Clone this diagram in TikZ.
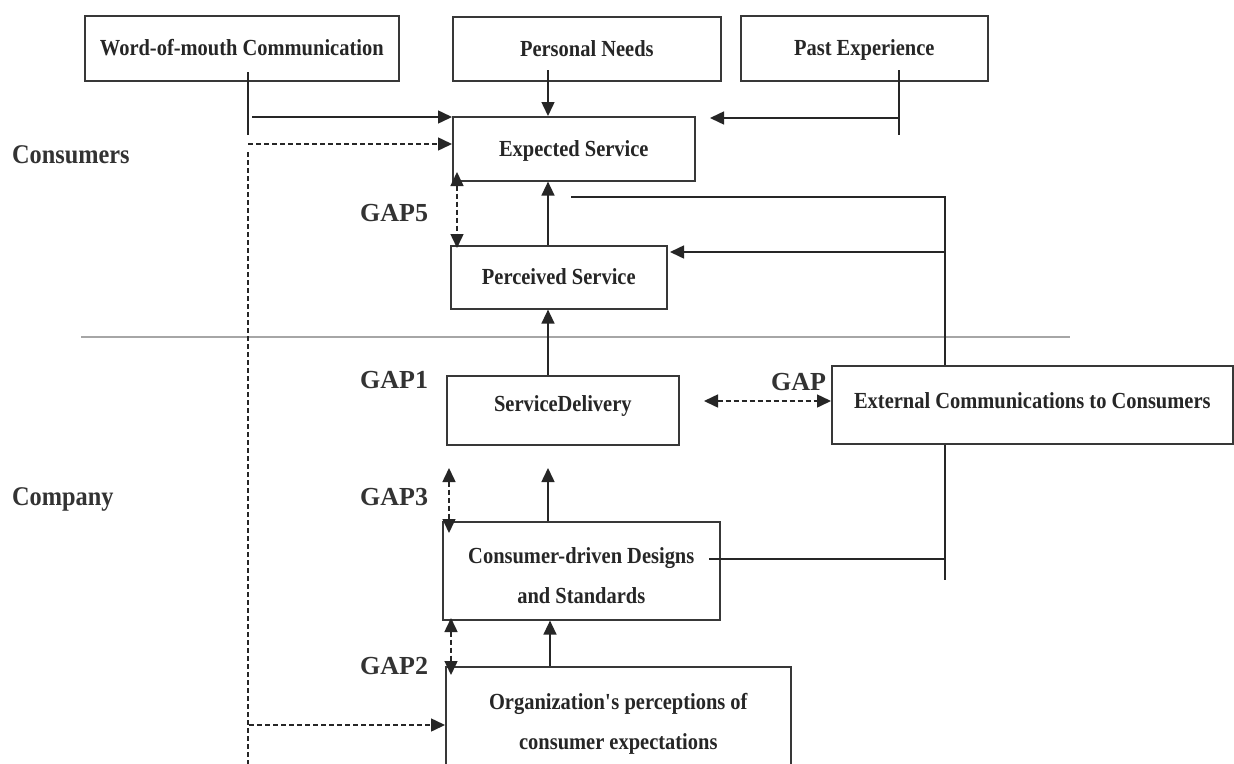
\documentclass[tikz,border=0pt]{standalone}
\usepackage{fontspec}
\setmainfont{Liberation Serif}
\newfontfamily\boxfont{Liberation Serif}[FakeStretch=0.89]
\newfontfamily\lblfont{Liberation Serif}[FakeStretch=0.9]
\usetikzlibrary{arrows.meta}
\begin{document}
\begin{tikzpicture}[x=1pt,y=-1pt,
 box/.style={draw=black!78, line width=1.6pt, rectangle, inner sep=0pt, anchor=north west,
   font=\boxfont\bfseries\fontsize{23}{40}\selectfont, text=black!85, align=center},
 one/.style={text height=20pt, text depth=5pt},
 conn/.style={draw=black!85, line width=1.5pt},
 tip/.tip={Triangle[length=14pt,width=13pt]},
 arr/.style={conn, -tip},
 darr/.style={conn, dash pattern=on 5pt off 3pt, -tip},
 ddarr/.style={conn, dash pattern=on 5pt off 3pt, tip-tip},
 dline/.style={conn, dash pattern=on 5pt off 3pt},
 side/.style={font=\lblfont\bfseries\fontsize{27}{30}\selectfont, text=black!80, anchor=base west, inner sep=0pt},
 gaplbl/.style={font=\bfseries\fontsize{26}{30}\selectfont, text=black!80, anchor=base west, inner sep=0pt}
]
\useasboundingbox (0,0) rectangle (1234,763);
\clip (0,0) rectangle (1234,763);
\fill[white] (0,0) rectangle (1234,763);

% boxes
\node[box, one, minimum width=314pt, minimum height=65pt] (wom) at (84,15) {Word-of-mouth Communication};
\node[box, one, minimum width=268pt, minimum height=64pt] (pn) at (452,16) {Personal Needs};
\node[box, one, minimum width=247pt, minimum height=65pt] (pe) at (740,15) {Past Experience};
\node[box, one, minimum width=242pt, minimum height=64pt] (exp) at (452,116) {Expected Service};
\node[box, one, minimum width=216pt, minimum height=63pt] (per) at (450,245) {Perceived Service};
\node[box, text height=20pt, text depth=17.4pt, minimum width=232pt, minimum height=69pt] (sd) at (446,375) {ServiceDelivery};
\node[box, text height=20pt, text depth=12.4pt, minimum width=401pt, minimum height=78pt] (ext) at (831,365) {External Communications to Consumers};
\node[box, minimum width=277pt, minimum height=98pt] (cdd) at (442,521) {\rule{0pt}{26pt}Consumer-driven Designs\\and Standards};
\node[box, minimum width=345pt, minimum height=114pt] (org) at (445,666) {Organization\textquotesingle s perceptions of\\consumer expectations};

% labels
\node[side] (lcons) at (12,163) {Consumers};
\node[side] (lcomp) at (12,505) {Company};
\node[gaplbl] (g5) at (360,221) {GAP5};
\node[gaplbl] (g1) at (360,388) {GAP1};
\node[gaplbl] (g3) at (360,505) {GAP3};
\node[gaplbl] (g2) at (360,674) {GAP2};
\node[gaplbl] (g4) at (771,390) {GAP};

% separator
\coordinate (s1) at (81,337);
\coordinate (s2) at (1070,337);
\draw[black!35, line width=2pt] (s1) -- (s2);

% column coordinates
\coordinate (c548) at (548,0);
\coordinate (c550) at (550,0);

% word-of-mouth
\coordinate (w0) at (248,72);
\coordinate (w0b) at (248,135);
\draw[conn] (w0) -- (w0b);
\coordinate (w1) at (252,117);
\draw[arr] (w1) -- (w1 -| exp.west);
\coordinate (w2) at (248,144);
\draw[darr] (w2) -- (w2 -| exp.west);
\coordinate (w3) at (248,152);
\coordinate (w4) at (248,775);
\draw[dline] (w3) -- (w4);
\coordinate (w5) at (249,725);
\draw[darr] (w5) -- (w5 -| org.west);

% personal needs
\coordinate (p1) at (548,70);
\draw[arr] (p1) -- (p1 |- exp.north);

% past experience
\coordinate (e1) at (899,70);
\coordinate (e2) at (899,135);
\draw[conn] (e1) -- (e2);
\coordinate (e3) at (899,118);
\coordinate (e4) at (710,118);
\draw[arr] (e3) -- (e4);

% perceived -> expected
\draw[arr] (per.north -| c548) -- (exp.south -| c548);
% GAP5
\coordinate (g5a) at (457,172);
\coordinate (g5b) at (457,248);
\draw[ddarr] (g5a) -- (g5b);

% external communications lines
\coordinate (x1) at (571,197);
\coordinate (x2) at (945,197);
\draw[conn] (x1) -- (x2) -- (x2 |- ext.north);
\coordinate (x3) at (945,252);
\coordinate (x4) at (670,252);
\draw[arr] (x3) -- (x4);
\coordinate (x5) at (945,580);
\draw[conn] (ext.south -| x2) -- (x5);
\coordinate (x6) at (709,559);
\coordinate (x7) at (945,559);
\draw[conn] (x6) -- (x7);

% service delivery -> perceived
\draw[arr] (sd.north -| c548) -- (per.south -| c548);
% GAP (sd <-> ext)
\coordinate (g4a) at (704,401);
\draw[ddarr] (g4a) -- (g4a -| ext.west);

% GAP3
\coordinate (g3a) at (449,468);
\coordinate (g3b) at (449,533);
\draw[ddarr] (g3a) -- (g3b);
% cdd -> sd
\coordinate (t1) at (548,468);
\draw[arr] (cdd.north -| c548) -- (t1);

% GAP2
\coordinate (g2a) at (451,618);
\coordinate (g2b) at (451,675);
\draw[ddarr] (g2a) -- (g2b);
% org -> cdd
\draw[arr] (org.north -| c550) -- (cdd.south -| c550);
\end{tikzpicture}
\end{document}
